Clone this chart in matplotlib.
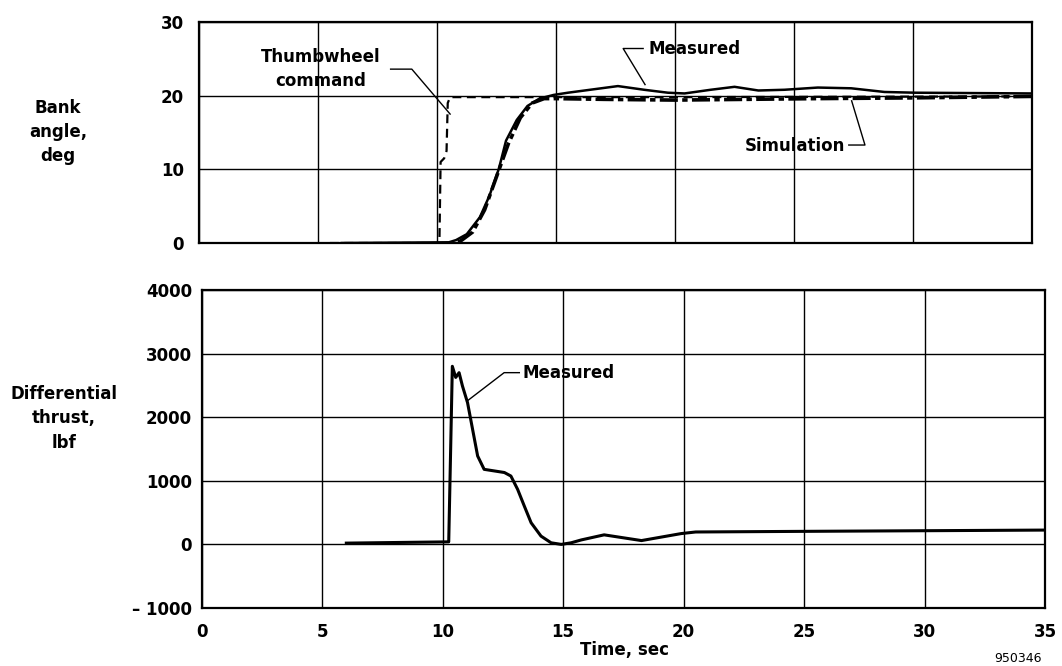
import matplotlib
matplotlib.use('Agg')
import matplotlib.pyplot as plt

plt.rcParams['font.family'] = ['DejaVu Sans']
plt.rcParams['font.weight'] = 'bold'

# bank angle, deg
thumb_t = [5.5, 10.1, 10.15, 10.3, 10.4, 10.45, 10.55, 20.0, 35.0]
thumb_v = [0.0, 0.0, 11.0, 11.5, 12.5, 19.0, 19.8, 19.8, 19.9]

sim_t = [5.5, 10.5, 11.0, 11.5, 12.0, 12.5, 13.0, 13.5, 14.0, 14.5, 15.0, 17.0,
         20.0, 23.0, 26.0, 30.0, 35.0]
sim_v = [-0.3, -0.3, 0.3, 1.5, 4.5, 9.0, 13.5, 17.0, 19.0, 19.6, 19.6, 19.5,
         19.4, 19.5, 19.6, 19.7, 19.9]

meas_t = [6.0, 10.5, 10.8, 11.25, 11.8, 12.2, 12.6, 12.9, 13.35, 13.8, 14.3,
          14.9, 15.5, 16.9, 17.6, 18.7, 19.7, 20.4, 21.5, 22.5, 23.5, 24.6,
          26.0, 27.4, 28.8, 30.1, 35.0]
meas_v = [0.0, 0.1, 0.4, 1.2, 3.5, 6.4, 10.1, 13.9, 16.7, 18.6, 19.6,
          20.1, 20.4, 21.0, 21.3, 20.8, 20.4, 20.3, 20.8, 21.2, 20.7, 20.8,
          21.1, 21.0, 20.5, 20.4, 20.3]

# differential thrust, lbf
thr_t = [6.0, 10.25, 10.33, 10.4, 10.54, 10.68, 10.82, 11.03, 11.24, 11.45,
         11.72, 12.14, 12.56, 12.83, 13.11, 13.39, 13.67, 14.08, 14.5, 14.92,
         15.33, 15.75, 16.7, 18.25, 19.9, 20.5, 25.0, 30.0, 35.0]
thr_v = [20, 40, 1500, 2800, 2625, 2700, 2490, 2230, 1810, 1390,
         1180, 1155, 1130, 1075, 865, 600, 340, 130, 25, 0,
         25, 70, 150, 60, 170, 195, 205, 215, 225]

fig = plt.figure(figsize=(10.62, 6.66), dpi=100)
ax1 = fig.add_axes([0.1874, 0.6351, 0.7844, 0.3319])
ax2 = fig.add_axes([0.190, 0.0871, 0.794, 0.4775])

for ax in (ax1, ax2):
    ax.set_xlim(0, 35)
    ax.set_xticks(range(0, 36, 5))
    ax.grid(True, color='black', lw=1.0)
    ax.tick_params(length=0, labelsize=12, pad=11)
    for s in ax.spines.values():
        s.set_linewidth(1.6)

ax1.set_ylim(0, 30)
ax1.set_yticks([0, 10, 20, 30])
ax1.set_xticklabels([])

ax1.plot(thumb_t, thumb_v, color='black', lw=1.6, ls=(0, (4, 2.5)))
ax1.plot(sim_t, sim_v, color='black', lw=2.6, ls=(0, (5, 1.2, 1.5, 1.2)))
ax1.plot(meas_t, meas_v, color='black', lw=1.8)

ax1.text(5.1, 23.6, 'Thumbwheel\ncommand', ha='center', va='center',
         fontsize=12, fontweight='bold', linespacing=1.4)
ax1.plot([8.05, 8.94, 10.55], [23.6, 23.6, 17.5], color='black', lw=1)
ax1.text(18.87, 26.4, 'Measured', ha='left', va='center', fontsize=12,
         fontweight='bold')
ax1.plot([18.66, 17.82, 18.74], [26.4, 26.4, 21.5], color='black', lw=1)
ax1.text(27.14, 13.2, 'Simulation', ha='right', va='center', fontsize=12,
         fontweight='bold')
ax1.plot([27.3, 27.98, 27.42], [13.3, 13.3, 19.3], color='black', lw=1)

ax2.set_ylim(-1000, 4000)
ax2.set_yticks([-1000, 0, 1000, 2000, 3000, 4000])
ax2.set_yticklabels(['\u2013 1000', '0', '1000', '2000', '3000', '4000'])
ax2.tick_params(axis='y', pad=7)
ax2.plot(thr_t, thr_v, color='black', lw=2.2)
ax2.text(13.3, 2700, 'Measured', ha='left', va='center', fontsize=12,
         fontweight='bold')
ax2.plot([13.18, 12.55, 11.0], [2700, 2700, 2250], color='black', lw=1)

fig.text(0.0546, 0.802, 'Bank\nangle,\ndeg', ha='center', va='center',
         fontsize=12, fontweight='bold', linespacing=1.45)
fig.text(0.0603, 0.372, 'Differential\nthrust,\nlbf', ha='center',
         va='center', fontsize=12, fontweight='bold', linespacing=1.45)
fig.text(0.588, 0.024, 'Time, sec', ha='center', va='center', fontsize=12,
         fontweight='bold')
fig.text(0.9586, 0.012, '950346', ha='center', va='center', fontsize=9,
         fontweight='normal')

fig.savefig('out.png', dpi=100)
